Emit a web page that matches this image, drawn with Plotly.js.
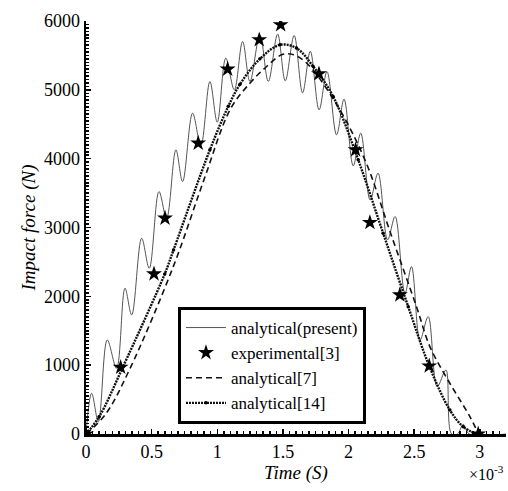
<!DOCTYPE html>
<html>
<head>
<meta charset="utf-8">
<script src="https://cdn.plot.ly/plotly-3.0.1.min.js"></script>
<style>
html,body{margin:0;padding:0;background:#fff;}
#chart{width:508px;height:491px;}
</style>
</head>
<body>
<div id="chart"></div>
<script>
// time in units of 1e-3 s, force in N
const presentT = [0, 0.043, 0.094, 0.162, 0.233, 0.297, 0.348, 0.424, 0.482, 0.556, 0.614, 0.685, 0.736, 0.812, 0.875, 0.944, 1.0, 1.065, 1.13, 1.193, 1.249, 1.325, 1.389, 1.46, 1.518, 1.586, 1.65, 1.709, 1.776, 1.836, 1.909, 1.966, 2.036, 2.093, 2.165, 2.225, 2.298, 2.355, 2.43, 2.48, 2.545, 2.607, 2.676, 2.742, 2.785, 2.83, 2.875, 2.92, 3.2];
const presentF = [0, 592, 179, 1366, 955, 2118, 1730, 2844, 2408, 3522, 3135, 4128, 3667, 4661, 4190, 5121, 4530, 5460, 5000, 5702, 5121, 5799, 5121, 5810, 5130, 5790, 4955, 5560, 4709, 5266, 4346, 4865, 3895, 4371, 3400, 3789, 2820, 3159, 2045, 2432, 1366, 1705, 688, 930, 0, 0, 140, 0, 0];

const expT = [0, 0.264, 0.518, 0.602, 0.855, 1.079, 1.32, 1.483, 1.775, 2.054, 2.163, 2.391, 2.615, 2.988];
const expF = [0, 969, 2326, 3135, 4225, 5300, 5727, 5945, 5233, 4128, 3072, 2020, 988, 0];

const ref7T = [0, 0.15, 0.33, 0.665, 0.9, 1.1, 1.249, 1.376, 1.49, 1.56, 1.668, 1.896, 2.125, 2.32, 2.518, 2.62, 2.772, 2.925, 2.99];
const ref7F = [0, 290, 930, 2432, 3700, 4720, 5097, 5339, 5509, 5520, 5412, 4830, 3983, 2920, 1850, 1270, 737, 252, 0];

const ref14T = [0, 0.1, 0.28, 0.6, 0.667, 0.944, 1.084, 1.173, 1.325, 1.478, 1.604, 1.731, 1.883, 2.074, 2.264, 2.455, 2.615, 2.772, 2.874, 2.975];
const ref14F = [0, 250, 969, 2326, 2674, 4128, 4760, 5080, 5450, 5654, 5606, 5339, 4903, 3983, 2917, 1850, 988, 349, 106, 0];

const xTicks = [0, 0.5, 1, 1.5, 2, 2.5, 3];
const xTickText = ['0', '0.5', '1', '1.5', '2', '2.5', '3'];
const yTicks = [0, 1000, 2000, 3000, 4000, 5000, 6000];
const names = ['analytical(present)', 'experimental[3]', 'analytical[7]', 'analytical[14]'];

const serif = 'Liberation Serif, serif';

const traces = [
  {x: presentT, y: presentF, name: names[0], mode: 'lines', legendrank: 1,
   line: {color: '#555', width: 1, shape: 'spline', smoothing: 1}},
  {x: ref7T, y: ref7F, name: names[2], mode: 'lines', legendrank: 3,
   line: {color: '#111', width: 1.6, dash: '6px,4px', shape: 'spline'}},
  {x: ref14T, y: ref14F, name: names[3], mode: 'lines+markers', legendrank: 4,
   line: {color: '#111', width: 2.4, dash: '2px,1px', shape: 'spline'},
   marker: {color: '#000', size: 3.5}},
  {x: expT, y: expF, name: names[1], mode: 'markers', legendrank: 2,
   marker: {symbol: 'star', color: '#000', size: 12, line: {width: 0}}}
];

const layout = {
  width: 508, height: 491,
  margin: {l: 86, r: 2, t: 21, b: 57},
  paper_bgcolor: '#fff', plot_bgcolor: '#fff',
  font: {family: serif, size: 18, color: '#000'},
  showlegend: true,
  legend: {x: 0.219, y: 0.3075, xanchor: 'left', yanchor: 'top',
           bordercolor: '#000', borderwidth: 3, bgcolor: '#fff',
           font: {family: serif, size: 17, color: '#000'},
           tracegroupgap: 0, itemwidth: 40},
  xaxis: {range: [0, 3.2], tickmode: 'array', tickvals: xTicks, ticktext: xTickText,
          showline: true, linecolor: '#000', linewidth: 2.5, mirror: false,
          ticks: 'inside', ticklen: 5, tickwidth: 1.5, tickcolor: '#000',
          minor: {dtick: 0.05, ticks: 'inside', ticklen: 3, tickwidth: 1.5, tickcolor: '#000', showgrid: false},
          showgrid: false, zeroline: false,
          tickfont: {family: serif, size: 18},
          title: {text: '<i>Time (S)</i>', font: {family: serif, size: 19}, standoff: 0}},
  yaxis: {range: [0, 6000], tickmode: 'array', tickvals: yTicks,
          showline: true, linecolor: '#000', linewidth: 2.5,
          ticks: 'inside', ticklen: 5, tickwidth: 1.5, tickcolor: '#000',
          minor: {dtick: 50, ticks: 'inside', ticklen: 3, tickwidth: 1.5, tickcolor: '#000', showgrid: false},
          showgrid: false, zeroline: false,
          tickfont: {family: serif, size: 18},
          title: {text: '<i>Impact force (N)</i>', font: {family: serif, size: 19}, standoff: 4}},
  annotations: [{xref: 'paper', yref: 'paper', x: 1.0, y: -0.094, xanchor: 'right', yanchor: 'middle',
                 text: '×10<sup>-3</sup>', showarrow: false, font: {family: serif, size: 16}}]
};

Plotly.newPlot('chart', traces, layout, {staticPlot: true, displayModeBar: false});
</script>
</body>
</html>
